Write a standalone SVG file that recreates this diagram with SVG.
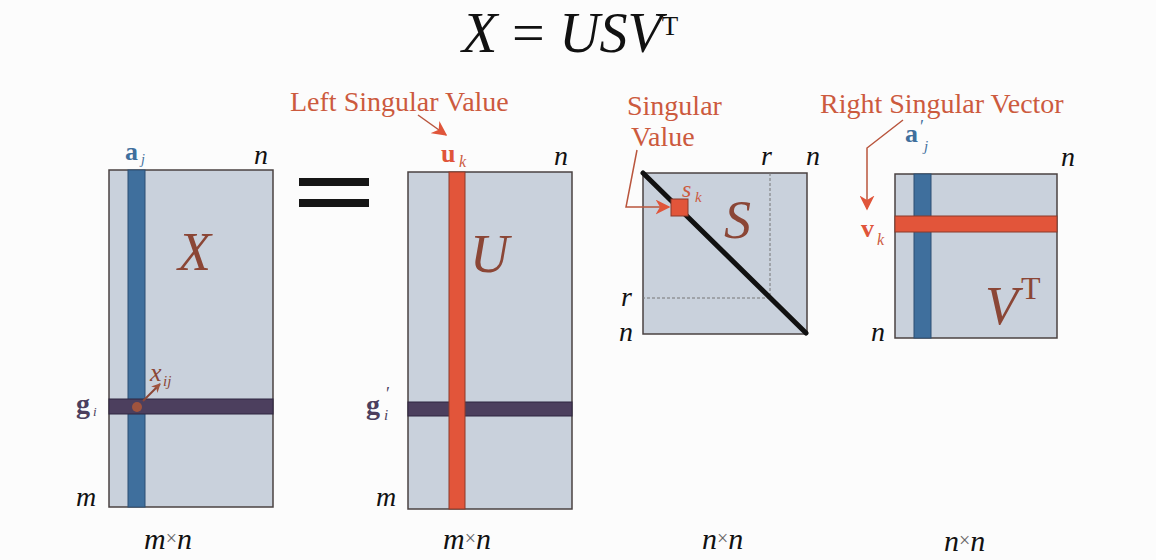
<svg xmlns="http://www.w3.org/2000/svg" width="1156" height="560" viewBox="0 0 1156 560">
<defs>
<style>
.mat{fill:#c9d1dc;stroke:#4a4242;stroke-width:1.5}
.blue{fill:#3f6f9d;stroke:#2c4f72;stroke-width:1}
.red{fill:#e2553a;stroke:#8a3a2a;stroke-width:1}
.purple{fill:#4c3f5e;stroke:#2f2740;stroke-width:1}
.t{font-family:"Liberation Serif","DejaVu Serif",serif}
.it{font-style:italic}
.big{font-size:54px;fill:#8b4636}
.lab{font-size:28px;fill:#111}
.dim{font-size:30px;fill:#111}
.redtxt{font-size:28px;fill:#cc5a3e}
.ann{stroke:#b9553d;stroke-width:1.5;fill:none}
</style>
<marker id="ah" viewBox="0 0 10 10" refX="9" refY="5" markerWidth="9" markerHeight="9" orient="auto" markerUnits="userSpaceOnUse">
<path d="M0,0 L10,5 L0,10 L3,5 z" fill="#a0543e"/>
</marker>
<marker id="ah2" viewBox="0 0 10 10" refX="9" refY="5" markerWidth="15" markerHeight="15" orient="auto" markerUnits="userSpaceOnUse">
<path d="M0,0 L10,5 L0,10 L3,5 z" fill="#e0553a"/>
</marker>
</defs>
<rect width="1156" height="560" fill="#fcfcfc"/>

<g id="title">
<text class="t" x="462" y="52" font-size="58" fill="#111"><tspan font-style="italic">X</tspan> = <tspan font-style="italic" font-size="56">USV</tspan><tspan font-size="27" dy="-17">T</tspan></text>
</g>

<g id="matrix-X">
<rect class="mat" x="109" y="170" width="164" height="337"/>
<rect class="blue" x="128" y="170" width="17" height="337"/>
<rect class="purple" x="109" y="399" width="164" height="15"/>
<circle cx="137" cy="407" r="5" fill="#a0543e"/>
<text class="t it big" x="178" y="270">X</text>
<text class="t" x="125" y="160" font-size="26" font-weight="bold" fill="#3f6f9d">a</text>
<text class="t it" x="141" y="164" font-size="14" fill="#3f6f9d">j</text>
<text class="t it lab" x="254" y="164">n</text>
<text class="t" x="76" y="413" font-size="28" font-weight="bold" fill="#4c3f5e">g</text>
<text class="t it" x="93" y="416" font-size="13" fill="#4c3f5e">i</text>
<text class="t it lab" x="76" y="506">m</text>
<text class="t it" x="150" y="381" font-size="26" fill="#8b4636">x</text>
<text class="t it" x="163" y="386" font-size="15" fill="#8b4636">ij</text>
<line x1="143" y1="401" x2="160" y2="384" stroke="#8b4636" stroke-width="2" marker-end="url(#ah)"/>
<text class="t it dim" x="144" y="549">m<tspan font-style="normal" font-size="20" fill="#666" dy="-4">×</tspan><tspan dy="4">n</tspan></text>
</g>

<g id="equals">
<rect x="299" y="178" width="70" height="8" fill="#161616"/>
<rect x="299" y="199" width="70" height="8" fill="#161616"/>
</g>

<g id="matrix-U">
<rect class="mat" x="408" y="172" width="164" height="337"/>
<rect class="purple" x="408" y="402" width="164" height="14"/>
<rect class="red" x="449" y="172" width="16" height="337"/>
<text class="t it big" x="470" y="272">U</text>
<text class="t" x="441" y="162" font-size="26" font-weight="bold" fill="#e0553a">u</text>
<text class="t it" x="459" y="167" font-size="16" fill="#cc5a3e">k</text>
<text class="t it lab" x="554" y="165">n</text>
<text class="t redtxt" x="290" y="111">Left Singular Value</text>
<line class="ann" x1="418" y1="115" x2="446" y2="135" marker-end="url(#ah2)"/>
<text class="t" x="366" y="414" font-size="28" font-weight="bold" fill="#4c3f5e">g</text>
<text class="t it" x="384" y="420" font-size="15" fill="#4c3f5e">i</text>
<text class="t" x="386" y="400" font-size="18" fill="#4c3f5e">′</text>
<text class="t it lab" x="376" y="506">m</text>
<text class="t it dim" x="443" y="549">m<tspan font-style="normal" font-size="20" fill="#666" dy="-4">×</tspan><tspan dy="4">n</tspan></text>
</g>

<g id="matrix-S">
<rect class="mat" x="643" y="173" width="164" height="161"/>
<path d="M770,173 V298 H643" fill="none" stroke="#777" stroke-width="1" stroke-dasharray="3,2"/>
<line x1="643" y1="173" x2="806" y2="333" stroke="#111" stroke-width="5" stroke-linecap="round"/>
<rect class="red" x="671" y="199" width="17" height="17"/>
<text class="t it big" x="724" y="238">S</text>
<text class="t it" x="682" y="197" font-size="24" fill="#cc5a3e">s</text>
<text class="t it" x="695" y="202" font-size="15" fill="#cc5a3e">k</text>
<text class="t it lab" x="761" y="165">r</text>
<text class="t it lab" x="806" y="165">n</text>
<text class="t it lab" x="621" y="306">r</text>
<text class="t it lab" x="619" y="341">n</text>
<text class="t redtxt" x="627" y="115" font-size="30">Singular</text>
<text class="t redtxt" x="631" y="146" font-size="30">Value</text>
<path class="ann" d="M637,150 L626,207 H669" marker-end="url(#ah2)"/>
<text class="t it dim" x="702" y="549">n<tspan font-style="normal" font-size="20" fill="#666" dy="-4">×</tspan><tspan dy="4">n</tspan></text>
</g>

<g id="matrix-VT">
<rect class="mat" x="895" y="174" width="162" height="164"/>
<rect class="blue" x="914" y="174" width="17" height="164"/>
<rect class="red" x="895" y="216" width="162" height="16"/>
<text class="t it big" x="985" y="324">V</text>
<text class="t" x="1021" y="299" font-size="32" fill="#8b4636">T</text>
<text class="t" x="905" y="142" font-size="26" font-weight="bold" fill="#3f6f9d">a</text>
<text class="t" x="920" y="133" font-size="18" fill="#3f6f9d">′</text>
<text class="t it" x="924" y="151" font-size="15" fill="#3f6f9d">j</text>
<text class="t it lab" x="1061" y="166">n</text>
<text class="t" x="861" y="237" font-size="26" font-weight="bold" fill="#e0553a">v</text>
<text class="t it" x="877" y="245" font-size="16" fill="#cc5a3e">k</text>
<text class="t it lab" x="871" y="341">n</text>
<text class="t redtxt" x="820" y="113">Right Singular Vector</text>
<path class="ann" d="M903,120 L867,148 V209" marker-end="url(#ah2)"/>
<text class="t it dim" x="944" y="551">n<tspan font-style="normal" font-size="20" fill="#666" dy="-4">×</tspan><tspan dy="4">n</tspan></text>
</g>
</svg>
